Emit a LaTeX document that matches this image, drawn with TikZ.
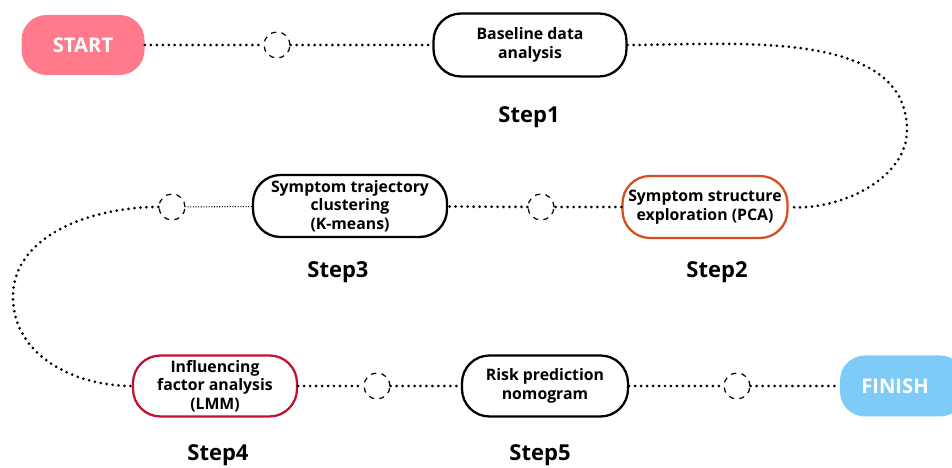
\documentclass[tikz,border=0pt]{standalone}
\usepackage{fontspec}
\setsansfont{Open Sans}
\usepackage{tikz}
\usetikzlibrary{calc}

\definecolor{startpink}{HTML}{FF7B8C}
\definecolor{finishblue}{HTML}{7FCBF8}
\definecolor{pcaorange}{HTML}{D4511F}
\definecolor{lmmred}{HTML}{BE1430}

\begin{document}
\begin{tikzpicture}[
    stagebox/.style={draw=black,line width=1.3pt,rounded corners=0.55cm,fill=white,
        minimum height=1.24cm,align=center,inner sep=2pt,
        font=\sffamily\bfseries\fontsize{9}{10.5}\selectfont},
    endbox/.style={rounded corners=0.5cm,minimum height=1.22cm,text=white,
        font=\sffamily\bfseries\fontsize{11.5}{13}\selectfont},
    knot/.style={circle,draw=black,dashed,line width=0.7pt,minimum size=0.52cm,inner sep=0pt,fill=white},
    steplabel/.style={font=\sffamily\bfseries\fontsize{12.5}{14}\selectfont},
    trail/.style={line width=1.7pt,line cap=round,dash pattern=on 0pt off 3.4pt},
    finetrail/.style={line width=0.6pt,dash pattern=on 0.6pt off 0.9pt}]
    \useasboundingbox (0,0) rectangle (19.04,-9.36);

    % row one
    \node[endbox,fill=startpink,minimum width=2.46cm,minimum height=1.2cm] (start) at (1.66,-0.9) {START};
    \node[knot] (k1) at (5.54,-0.9) {};
    \node[stagebox,minimum width=3.86cm,minimum height=1.26cm] (base) at (10.6,-0.9) {Baseline data\\analysis};
    \node[steplabel] (s1) at (10.58,-2.34) {Step1};

    % row two
    \node[stagebox,draw=pcaorange,minimum width=3.3cm] (pca) at (14.1,-4.14) {Symptom structure\\exploration (PCA)};
    \node[steplabel] (s2) at (14.34,-5.44) {Step2};
    \node[knot] (k2) at (10.82,-4.14) {};
    \node[stagebox,minimum width=3.88cm] (kmeans) at (7.0,-4.12) {Symptom trajectory\\clustering\\(K-means)};
    \node[steplabel] (s3) at (6.76,-5.44) {Step3};
    \node[knot] (k3) at (3.44,-4.14) {};

    % row three
    \node[stagebox,draw=lmmred,minimum width=3.28cm,minimum height=1.22cm] (lmm) at (4.3,-7.72) {Influencing\\factor analysis\\(LMM)};
    \node[steplabel] (s4) at (4.36,-9.1) {Step4};
    \node[knot] (k4) at (7.54,-7.72) {};
    \node[stagebox,minimum width=3.32cm,minimum height=1.22cm] (risk) at (10.9,-7.72) {Risk prediction\\nomogram};
    \node[steplabel] (s5) at (10.8,-9.1) {Step5};
    \node[knot] (k5) at (14.74,-7.72) {};
    \node[endbox,fill=finishblue,minimum width=2.5cm] (finish) at (18.05,-7.72) {\hspace*{-0.3cm}FINISH};

    \coordinate (rturn) at (18.14,-2.6);
    \coordinate (lturn) at (0.26,-5.94);

    % trails
    \draw[trail] (start) -- (k1);
    \draw[trail] (k1) -- (base);
    \draw[trail] (base.east) to[out=0,in=90,looseness=0.9] (rturn) to[out=-90,in=-5,looseness=0.9] (pca.east);
    \draw[trail] (pca) -- (k2);
    \draw[trail] (k2) -- (kmeans);
    \draw[finetrail] (kmeans) -- (k3);
    \draw[trail] (k3.west) to[out=180,in=90,looseness=0.95] (lturn) to[out=-90,in=180,looseness=1] (lmm.west);
    \draw[trail] (lmm) -- (k4);
    \draw[trail] (k4) -- (risk);
    \draw[trail] (risk) -- (k5);
    \draw[trail] (k5) -- (finish);
\end{tikzpicture}
\end{document}
